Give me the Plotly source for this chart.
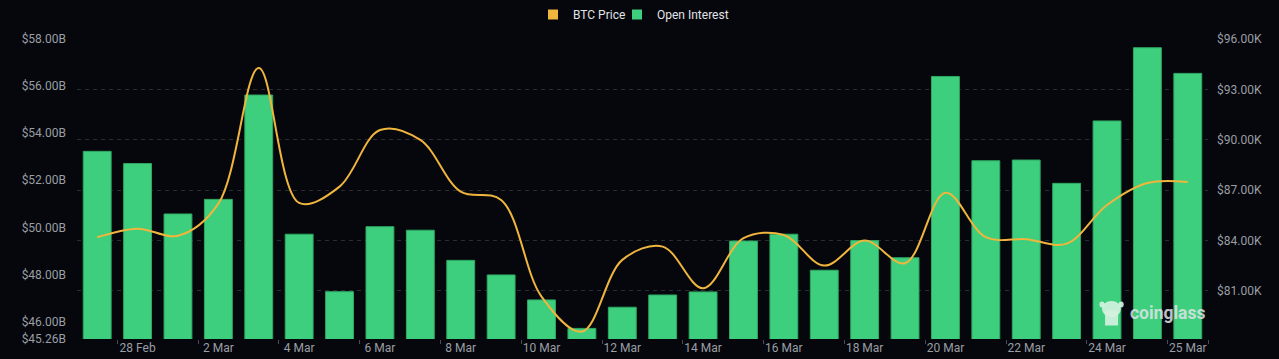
import plotly.graph_objects as go
import datetime as dt

# ---- data ----
start = dt.date(2025, 2, 27)
dates = [(start + dt.timedelta(days=i)).isoformat() for i in range(28)]

open_interest_b = [53.23, 52.71, 50.57, 51.19, 55.62, 49.71, 47.27, 50.03, 49.88, 48.60,
                   47.98, 46.92, 45.71, 46.61, 47.13, 47.26, 49.42, 49.71, 48.18, 49.44,
                   48.71, 56.41, 52.83, 52.86, 51.87, 54.52, 57.63, 56.54]

btc_price_k = [84.20, 84.71, 84.29, 86.20, 94.27, 86.24, 87.21, 90.58, 89.99, 86.91,
               86.42, 80.66, 78.58, 82.85, 83.64, 81.16, 84.14, 84.33, 82.51, 84.00,
               82.65, 86.85, 84.20, 84.08, 83.82, 86.12, 87.43, 87.49]

x_tick_idx = [1, 3, 5, 7, 9, 11, 13, 15, 17, 19, 21, 23, 25, 27]
x_tick_text = ["28 Feb", "2 Mar", "4 Mar", "6 Mar", "8 Mar", "10 Mar", "12 Mar", "14 Mar",
               "16 Mar", "18 Mar", "20 Mar", "22 Mar", "24 Mar", "25 Mar"]

oi_ticks = [45.26, 46, 48, 50, 52, 54, 56, 58]
oi_range = [45.26, 58.0]
price_ticks = [81, 84, 87, 90, 93, 96]
price_range = [78.14, 96.0]

# ---- style ----
BG = "#05070c"
GREEN = "#3ecf7e"
GREEN_EDGE = "#2fa863"
GOLD = "#efb53d"
GRID = "#2a2d34"
TXT = "#9b9ea4"
FONT = "Roboto"
LOGO = "rgba(210,242,222,0.92)"

fig = go.Figure()

fig.add_trace(go.Bar(
    x=dates, y=open_interest_b, name="Open Interest", yaxis="y",
    marker=dict(color=GREEN, line=dict(color=GREEN_EDGE, width=1)),
    showlegend=False,
))
fig.add_trace(go.Scatter(
    x=dates, y=btc_price_k, name="BTC Price", yaxis="y2", mode="lines",
    line=dict(color=GOLD, width=2, shape="spline", smoothing=1.0),
    showlegend=False,
))
# legend entries (square swatches), one legend box each for precise placement
fig.add_trace(go.Scatter(x=[None], y=[None], mode="markers", name="BTC Price",
                         marker=dict(symbol="square", size=10, color=GOLD), yaxis="y2",
                         legend="legend"))
fig.add_trace(go.Scatter(x=[None], y=[None], mode="markers", name="Open Interest",
                         marker=dict(symbol="square", size=10, color=GREEN), yaxis="y2",
                         legend="legend2"))

# watermark logo (simple approximation of the mascot head)
logo_shapes = [
    dict(type="circle", xref="paper", yref="paper", layer="above",
         x0=0.9063, x1=0.9230, y0=0.073, y1=0.127, fillcolor=LOGO, line_width=0),
    dict(type="rect", xref="paper", yref="paper", layer="above",
         x0=0.9090, x1=0.9205, y0=0.045, y1=0.095, fillcolor=LOGO, line_width=0),
    dict(type="circle", xref="paper", yref="paper", layer="above",
         x0=0.9040, x1=0.9085, y0=0.105, y1=0.125, fillcolor=LOGO, line_width=0),
    dict(type="circle", xref="paper", yref="paper", layer="above",
         x0=0.9210, x1=0.9255, y0=0.105, y1=0.125, fillcolor=LOGO, line_width=0),
]

legend_common = dict(orientation="h", xanchor="left", y=1.0, yanchor="top",
                     yref="container", xref="container",
                     font=dict(size=12, color="#e0e2e6"),
                     itemclick=False, bgcolor="rgba(0,0,0,0)", itemwidth=30)

fig.update_layout(
    width=1279, height=359,
    paper_bgcolor=BG, plot_bgcolor=BG,
    margin=dict(l=77, r=71, t=39, b=20, autoexpand=False),
    font=dict(family=FONT, size=12, color=TXT),
    bargap=0.31,
    legend=dict(x=533 / 1279, **legend_common),
    legend2=dict(x=617 / 1279, **legend_common),
    xaxis=dict(
        type="category", tickvals=[dates[i] for i in x_tick_idx], ticktext=x_tick_text,
        tickson="boundaries", ticks="outside", ticklen=4, tickcolor="#4a4d54",
        tickangle=0, automargin=False,
        showgrid=False, showline=False, zeroline=False,
        tickfont=dict(size=12, color=TXT),
    ),
    yaxis=dict(
        range=oi_range, tickvals=oi_ticks, automargin=False,
        ticktext=[f"${v:.2f}B" for v in oi_ticks],
        showgrid=False, zeroline=False, showline=False, ticks="",
        ticklabelstandoff=10, tickfont=dict(size=12, color=TXT),
    ),
    yaxis2=dict(
        overlaying="y", side="right", range=price_range, automargin=False,
        tickvals=[price_range[0]] + price_ticks,
        ticktext=[""] + [f"${v:.2f}K" for v in price_ticks],
        showgrid=True, gridcolor=GRID, griddash="4px,4px", gridwidth=1,
        zeroline=False, showline=False, ticks="",
        ticklabelstandoff=8, tickfont=dict(size=12, color=TXT),
    ),
    shapes=logo_shapes,
    annotations=[dict(
        text="<b>coinglass</b>", xref="paper", yref="paper",
        x=0.929, y=0.087, xanchor="left", yanchor="middle", showarrow=False,
        font=dict(family=FONT, size=17.5, color="rgba(225,228,232,0.85)"),
    )],
)

fig.write_html(
    "out.html",
    config={"displayModeBar": False},
    post_script="document.body.style.margin='0';document.body.style.background='#05070c';",
)
